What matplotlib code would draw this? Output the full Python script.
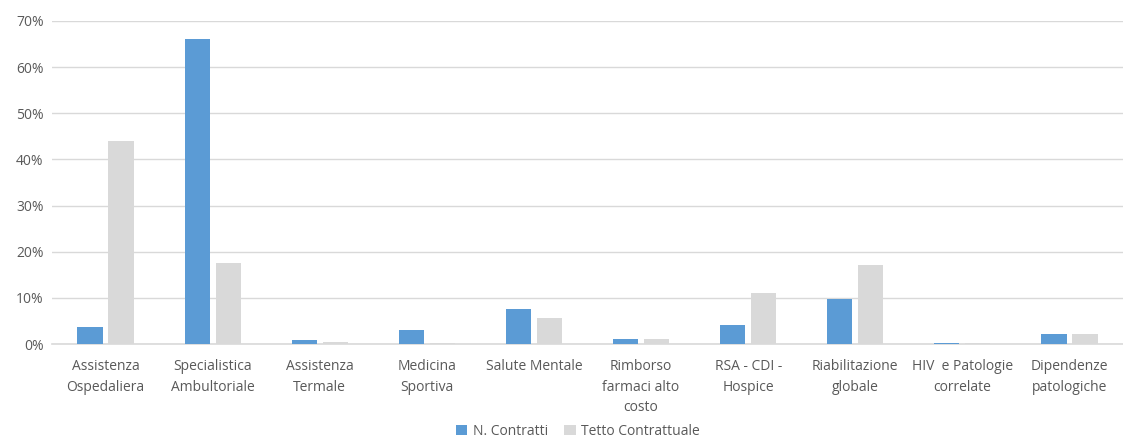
import numpy as np
import matplotlib.pyplot as plt
from matplotlib.ticker import PercentFormatter

# Data
categories = ["Assistenza\nOspedaliera", "Specialistica\nAmbultoriale", "Assistenza\nTermale",
              "Medicina\nSportiva", "Salute Mentale", "Rimborso\nfarmaci alto\ncosto",
              "RSA - CDI -\nHospice", "Riabilitazione\nglobale", "HIV  e Patologie\ncorrelate",
              "Dipendenze\npatologiche"]
n_contratti = [3.7, 66.2, 0.9, 3.0, 7.6, 1.0, 4.2, 9.8, 0.3, 2.2]
tetto_contrattuale = [44.0, 17.6, 0.5, 0.3, 5.7, 1.0, 11.1, 17.1, 0.2, 2.2]

plt.rcParams['font.family'] = ['Open Sans', 'DejaVu Sans']
text_col = '#595959'

fig = plt.figure(figsize=(11.23, 4.41), dpi=100)
ax = fig.add_axes([52 / 1123, 97 / 441, 1 - 52 / 1123, 323 / 441])

x = np.arange(len(categories))
w = 0.235
ax.bar(x - 0.145, n_contratti, w, color='#5b9bd5', label='N. Contratti', zorder=3)
ax.bar(x + 0.145, tetto_contrattuale, w, color='#d9d9d9', label='Tetto Contrattuale', zorder=3)

ax.set_xlim(-0.5, len(categories) - 0.5)
ax.set_ylim(0, 70)
ax.set_yticks(np.arange(0, 71, 10))
ax.yaxis.set_major_formatter(PercentFormatter(decimals=0))
ax.grid(axis='y', color='#d9d9d9', linewidth=1, zorder=0)

ax.set_xticks(x)
ax.set_xticklabels(categories, fontsize=10, color=text_col, linespacing=1.5, va='top')
ax.tick_params(axis='y', labelsize=10, labelcolor=text_col, length=0, pad=6)
ax.tick_params(axis='x', length=0, pad=11)

for s in ['top', 'right', 'left']:
    ax.spines[s].set_visible(False)
ax.spines['bottom'].set_color('#d9d9d9')
ax.spines['bottom'].set_linewidth(1.2)

leg = ax.legend(loc='center', bbox_to_anchor=(0.491, -0.27), ncol=2, frameon=False,
                fontsize=10, handlelength=0.8, handleheight=0.8, columnspacing=1.2,
                handletextpad=0.4)
for t in leg.get_texts():
    t.set_color(text_col)

fig.savefig('out.png', dpi=100)
